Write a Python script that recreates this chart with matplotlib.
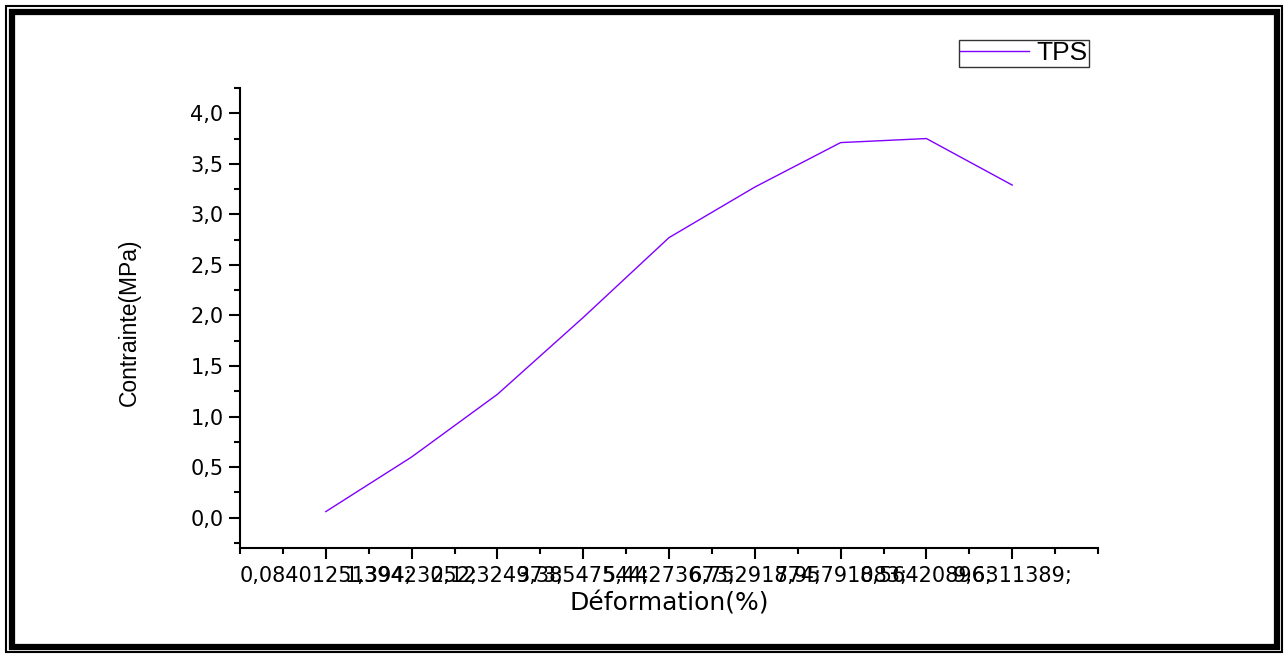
import matplotlib.pyplot as plt
from matplotlib.patches import Rectangle
from matplotlib.ticker import MultipleLocator, FuncFormatter

plt.rcParams['font.family'] = ['DejaVu Sans']

# essai de traction TPS
positions = [1, 2, 3, 4, 5, 6, 7, 8, 9]
deformation = ['0,08401251394;', '1,39423052;', '2,12324973;', '3,38547544;',
               '5,44273673;', '6,75291874;', '7,95791083;', '8,56420896;',
               '9,6311389;']
contrainte = [0.06, 0.60, 1.22, 1.98, 2.77, 3.27, 3.71, 3.75, 3.29]

W, H = 1288, 658
fig = plt.figure(figsize=(W / 100, H / 100), dpi=100)
ax = fig.add_axes([240 / W, 1 - 548 / H, 858 / W, 460 / H])

ax.plot(positions, contrainte, color='#8000ff', lw=1.0, label='TPS')

ax.set_xlim(0, 10)
ax.set_ylim(-0.3, 4.25)
ax.set_xticks(positions)
ax.set_xticklabels(deformation, fontsize=15)
ax.xaxis.set_minor_locator(MultipleLocator(0.5))
ax.yaxis.set_major_locator(MultipleLocator(0.5))
ax.yaxis.set_minor_locator(MultipleLocator(0.25))
ax.yaxis.set_major_formatter(FuncFormatter(lambda v, p: f'{v:.1f}'.replace('.', ',')))
ax.tick_params(axis='y', labelsize=15, pad=4)
ax.tick_params(axis='x', pad=5)
ax.tick_params(which='major', direction='out', length=8, width=1.5)
ax.tick_params(which='minor', direction='out', length=4, width=1.5)
for s in ['top', 'right']:
    ax.spines[s].set_visible(False)
for s in ['left', 'bottom']:
    ax.spines[s].set_linewidth(1.5)

ax.set_xlabel('Déformation(%)', fontsize=18, labelpad=4)
ax.set_ylabel('Contrainte(MPa)', fontsize=16.5, family='Liberation Sans')
ax.yaxis.set_label_coords(-0.115, 0.49)

leg = ax.legend(loc='upper right', bbox_to_anchor=(1089 / W, 1 - 40 / H),
                bbox_transform=fig.transFigure, prop={'family': 'Liberation Sans', 'size': 19},
                frameon=True, fancybox=False, edgecolor='black', handlelength=2.6,
                borderpad=0.05, handletextpad=0.3, borderaxespad=0)
leg.get_frame().set_linewidth(1.0)

# double cadre autour de la figure
fig.patches.append(Rectangle((6 / W, 6 / H), 1 - 12 / W, 1 - 12 / H, transform=fig.transFigure,
                             fill=False, edgecolor='black', lw=1.5))
fig.patches.append(Rectangle((11.5 / W, 11.5 / H), 1 - 23 / W, 1 - 23 / H, transform=fig.transFigure,
                             fill=False, edgecolor='black', lw=4.5))

fig.savefig('out.png', dpi=100, facecolor='white')
